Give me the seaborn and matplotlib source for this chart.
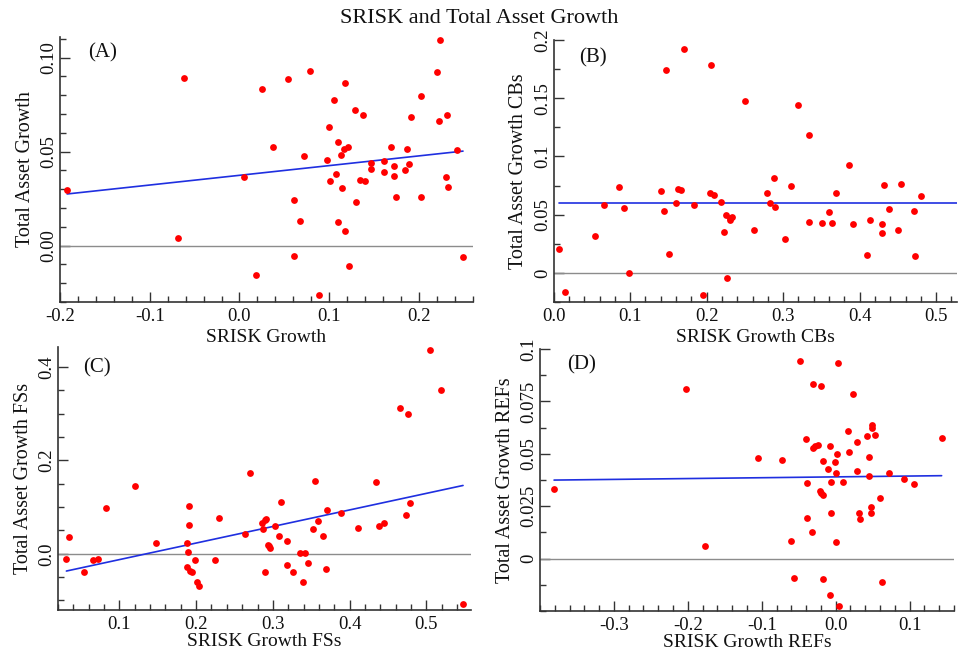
import numpy as np
import pandas as pd
import matplotlib
matplotlib.use("Agg")
import matplotlib.pyplot as plt
from matplotlib.ticker import MultipleLocator, FixedLocator, FuncFormatter
import seaborn as sns

# panel A: SRISK growth vs total asset growth
a_x = [-0.192, -0.0615, -0.068, 0.0048, 0.0256, 0.0189, 0.0374, 0.054, 0.0785, 0.0715,
       0.0611, 0.0604, 0.067, 0.0885, 0.0978, 0.0993, 0.1056, 0.101, 0.1074, 0.1093,
       0.110, 0.113, 0.114, 0.116, 0.118, 0.118, 0.121, 0.122, 0.129, 0.130,
       0.134, 0.138, 0.140, 0.146, 0.147, 0.161, 0.161, 0.1685, 0.172, 0.172,
       0.174, 0.184, 0.187, 0.189, 0.1915, 0.2026, 0.2022, 0.220, 0.2237, 0.222,
       0.2307, 0.230, 0.2326, 0.2419, 0.249]
a_y = [0.0298, 0.089, 0.0041, 0.0364, 0.0831, -0.0155, 0.0522, 0.0888, 0.0929, 0.0476,
       0.0245, -0.0053, 0.013, -0.0263, 0.0455, 0.0632, 0.0774, 0.0346, 0.038, 0.0551,
       0.0124, 0.0481, 0.0306, 0.0512, 0.0863, 0.008, 0.0522, -0.011, 0.0719, 0.0231,
       0.0348, 0.0694, 0.0345, 0.044, 0.0409, 0.0451, 0.0391, 0.0522, 0.0421, 0.0373,
       0.0259, 0.0403, 0.0513, 0.0433, 0.0684, 0.0796, 0.0261, 0.0924, 0.1096, 0.0663,
       0.0693, 0.0364, 0.0313, 0.0508, -0.0062]

# panel B: commercial banks
b_x = [0.0065, 0.0152, 0.054, 0.0657, 0.0849, 0.0918, 0.0983, 0.1406, 0.1445, 0.1462,
       0.1506, 0.160, 0.1628, 0.1658, 0.1706, 0.1836, 0.195, 0.204, 0.2063, 0.210,
       0.2193, 0.222, 0.2259, 0.2267, 0.2306, 0.2328, 0.231, 0.2502, 0.262, 0.2785,
       0.2833, 0.2885, 0.289, 0.3024, 0.3098, 0.3194, 0.3342, 0.3342, 0.3507, 0.3603,
       0.3634, 0.369, 0.386, 0.3912, 0.4095, 0.4138, 0.4295, 0.4295, 0.4321, 0.439,
       0.45, 0.4547, 0.4713, 0.473, 0.4809]
b_y = [0.0209, -0.016, 0.0318, 0.0581, 0.0741, 0.0558, 0.0, 0.0707, 0.0532, 0.1745,
       0.0163, 0.0598, 0.0718, 0.0712, 0.192, 0.0581, -0.0189, 0.0687, 0.1785, 0.0667,
       0.0609, 0.0355, 0.0498, -0.0046, 0.0475, 0.0484, 0.0458, 0.1474, 0.0369, 0.0687,
       0.0601, 0.0818, 0.0569, 0.0289, 0.0744, 0.1445, 0.1182, 0.0435, 0.0432, 0.0526,
       0.0426, 0.0687, 0.093, 0.0421, 0.0152, 0.0455, 0.0423, 0.0343, 0.0755, 0.0549,
       0.0372, 0.0761, 0.0529, 0.0146, 0.0664]

# panel C: financial services
c_x = [0.031, 0.0344, 0.0535, 0.0657, 0.0726, 0.0822, 0.1204, 0.1473, 0.1882, 0.1895,
       0.1882, 0.1908, 0.1912, 0.1925, 0.1942, 0.1982, 0.2016, 0.2038, 0.2242, 0.2294,
       0.2637, 0.2702, 0.2859, 0.2876, 0.2898, 0.2915, 0.2894, 0.2933, 0.295, 0.2967,
       0.3028, 0.3076, 0.3102, 0.3185, 0.318, 0.3263, 0.3354, 0.3423, 0.3389, 0.3458,
       0.3523, 0.3545, 0.3593, 0.3649, 0.3693, 0.3706, 0.3884, 0.411, 0.4345, 0.4388,
       0.4453, 0.4657, 0.474, 0.4766, 0.4792, 0.5048, 0.5187, 0.5473]
c_y = [-0.0107, 0.0349, -0.0392, -0.0135, -0.0107, 0.0984, 0.1455, 0.0221, 0.0221, 0.0029,
       -0.0292, 0.102, 0.0606, -0.0364, -0.0385, -0.0128, -0.0599, -0.0699, -0.0143, 0.0756,
       0.0421, 0.1733, 0.0656, 0.0535, 0.0727, 0.0745, -0.0392, 0.0185, 0.0164, 0.0114,
       0.0585, 0.0385, 0.1112, 0.0264, -0.025, -0.0392, 0.0021, 0.0007, -0.0606, -0.0207,
       0.0528, 0.1561, 0.0706, 0.0371, -0.0335, 0.0948, 0.0877, 0.0556, 0.154, 0.0585,
       0.0649, 0.313, 0.082, 0.2988, 0.1077, 0.4357, 0.3501, -0.107]

# panel D: real estate firms
d_x = [-0.381, -0.2025, -0.1768, -0.1046, -0.0722, -0.06, -0.0564, -0.0478, -0.0397, -0.0388,
       -0.0392, -0.0316, -0.0302, -0.0307, -0.0275, -0.0239, -0.0198, -0.0212, -0.0203, -0.0176,
       -0.0176, -0.0167, -0.0108, -0.0072, -0.0072, -0.0063, -0.0063, -0.0014, 0.0005, 0.0009,
       0.0018, 0.0027, 0.0045, 0.0095, 0.0171, 0.018, 0.0234, 0.0289, 0.0289, 0.0316,
       0.0329, 0.0428, 0.0451, 0.0451, 0.0478, 0.0478, 0.0496, 0.0496, 0.0528, 0.0604,
       0.0622, 0.0717, 0.0929, 0.1064, 0.1434]
d_y = [0.0332, 0.0809, 0.0059, 0.0479, 0.0469, 0.0086, -0.0092, 0.0941, 0.0571, 0.0361,
       0.0196, 0.0126, 0.0833, 0.0528, 0.0536, 0.0544, 0.0822, 0.0321, 0.0313, 0.0305,
       0.0467, -0.0099, 0.0426, 0.0537, -0.0172, 0.0366, 0.0216, 0.0461, 0.041, 0.0081,
       0.0498, 0.0932, -0.0224, 0.0366, 0.0611, 0.0507, 0.0784, 0.0556, 0.0418, 0.0216,
       0.0191, 0.0587, 0.0483, 0.0393, 0.0245, 0.0218, 0.0639, 0.0625, 0.0588, 0.0291,
       -0.0111, 0.0407, 0.0378, 0.0355, 0.0577]

# fitted lines (intercept, slope) and x extent
fit_a = (0.0374, 0.0517, -0.192, 0.249)
fit_b = (0.0598, 0.0, 0.0065, 0.53)
fit_c = (-0.048, 0.3547, 0.031, 0.5478)
fit_d = (0.0390, 0.0040, -0.381, 0.1434)

sns.set_style("ticks")
plt.rcParams["font.family"] = ["Liberation Serif", "DejaVu Serif"]
plt.rcParams["axes.unicode_minus"] = False

fig = plt.figure(figsize=(9.58, 6.5), dpi=100)
txt = "#111111"

panels = [
    dict(x=a_x, y=a_y, fit=fit_a, tag="(A)", xl="SRISK Growth", yl="Total Asset Growth",
         rect=[0.0626, 0.5354, 0.431, 0.4077], xlim=(-0.2, 0.26), ylim=(-0.030, 0.111),
         xt=[-0.2, -0.1, 0.0, 0.1, 0.2], xm=0.02, yt=[0.0, 0.05, 0.10], ym=0.01,
         xf="%.1f", yf="%.2f", tagpos=(0.068, 0.977), xlp=3),
    dict(x=b_x, y=b_y, fit=fit_b, tag="(B)", xl="SRISK Growth CBs", yl="Total Asset Growth CBs",
         rect=[0.578, 0.5354, 0.4207, 0.403], xlim=(0.0, 0.527), ylim=(-0.025, 0.2),
         xt=[0.0, 0.1, 0.2, 0.3, 0.4, 0.5], xm=0.02, yt=[0, 0.05, 0.1, 0.15, 0.2], ym=0.025,
         xf="%.1f", yf="%g", tagpos=(0.062, 0.969), xlp=3),
    dict(x=c_x, y=c_y, fit=fit_c, tag="(C)", xl="SRISK Growth FSs", yl="Total Asset Growth FSs",
         rect=[0.0605, 0.0615, 0.431, 0.4046], xlim=(0.02, 0.558), ylim=(-0.1205, 0.4428),
         xt=[0.1, 0.2, 0.3, 0.4, 0.5], xm=0.02, yt=[0.0, 0.2, 0.4], ym=0.05,
         xf="%.1f", yf="%.1f", tagpos=(0.06, 0.958), xlp=0),
    dict(x=d_x, y=d_y, fit=fit_d, tag="(D)", xl="SRISK Growth REFs", yl="Total Asset Growth REFs",
         rect=[0.5637, 0.06, 0.432, 0.403], xlim=(-0.4, 0.16), ylim=(-0.025, 0.1),
         xt=[-0.3, -0.2, -0.1, 0.0, 0.1], xm=0.02, yt=[0, 0.025, 0.05, 0.075, 0.1], ym=0.0125,
         xf="%.1f", yf="%g", tagpos=(0.065, 0.977), xlp=0),
]

for p in panels:
    ax = fig.add_axes(p["rect"])
    df = pd.DataFrame({"x": p["x"], "y": p["y"]})
    ax.axhline(0, color="#8c8c8c", lw=1.0, zorder=1)
    b0, b1, x0, x1 = p["fit"]
    lx = np.array([x0, x1])
    ax.plot(lx, b0 + b1 * lx, color="#1f2fe0", lw=1.2, zorder=2)
    sns.scatterplot(data=df, x="x", y="y", ax=ax, color="#ff0000", s=24,
                    linewidth=0, zorder=3, legend=False)
    ax.set_xlim(*p["xlim"])
    ax.set_ylim(*p["ylim"])
    ax.xaxis.set_major_locator(FixedLocator(p["xt"]))
    ax.yaxis.set_major_locator(FixedLocator(p["yt"]))
    ax.xaxis.set_minor_locator(MultipleLocator(p["xm"]))
    ax.yaxis.set_minor_locator(MultipleLocator(p["ym"]))
    xf, yf = p["xf"], p["yf"]
    ax.xaxis.set_major_formatter(FuncFormatter(lambda v, pos, f=xf: f % v))
    ax.yaxis.set_major_formatter(FuncFormatter(lambda v, pos, f=yf: f % v))
    ax.tick_params(which="major", direction="in", length=7, width=1, pad=2,
                   labelsize=13.5, colors="#333333", labelcolor=txt)
    ax.tick_params(axis="x", which="major", pad=4)
    ax.tick_params(which="minor", direction="in", length=4, width=1, colors="#333333")
    for lbl in ax.get_yticklabels():
        lbl.set_rotation(90)
        lbl.set_va("center")
    sns.despine(ax=ax)
    for s in ["left", "bottom"]:
        ax.spines[s].set_color("#333333")
        ax.spines[s].set_linewidth(1.2)
    ax.set_xlabel(p["xl"], fontsize=14, color=txt, labelpad=p["xlp"])
    ax.set_ylabel(p["yl"], fontsize=14.5, color=txt, labelpad=4)
    ax.text(p["tagpos"][0], p["tagpos"][1], p["tag"], transform=ax.transAxes,
            fontsize=15, color=txt, ha="left", va="top")

fig.text(0.5, 0.972, "SRISK and Total Asset Growth", ha="center", va="center",
         fontsize=16, color=txt)

fig.savefig("out.png", dpi=100)
